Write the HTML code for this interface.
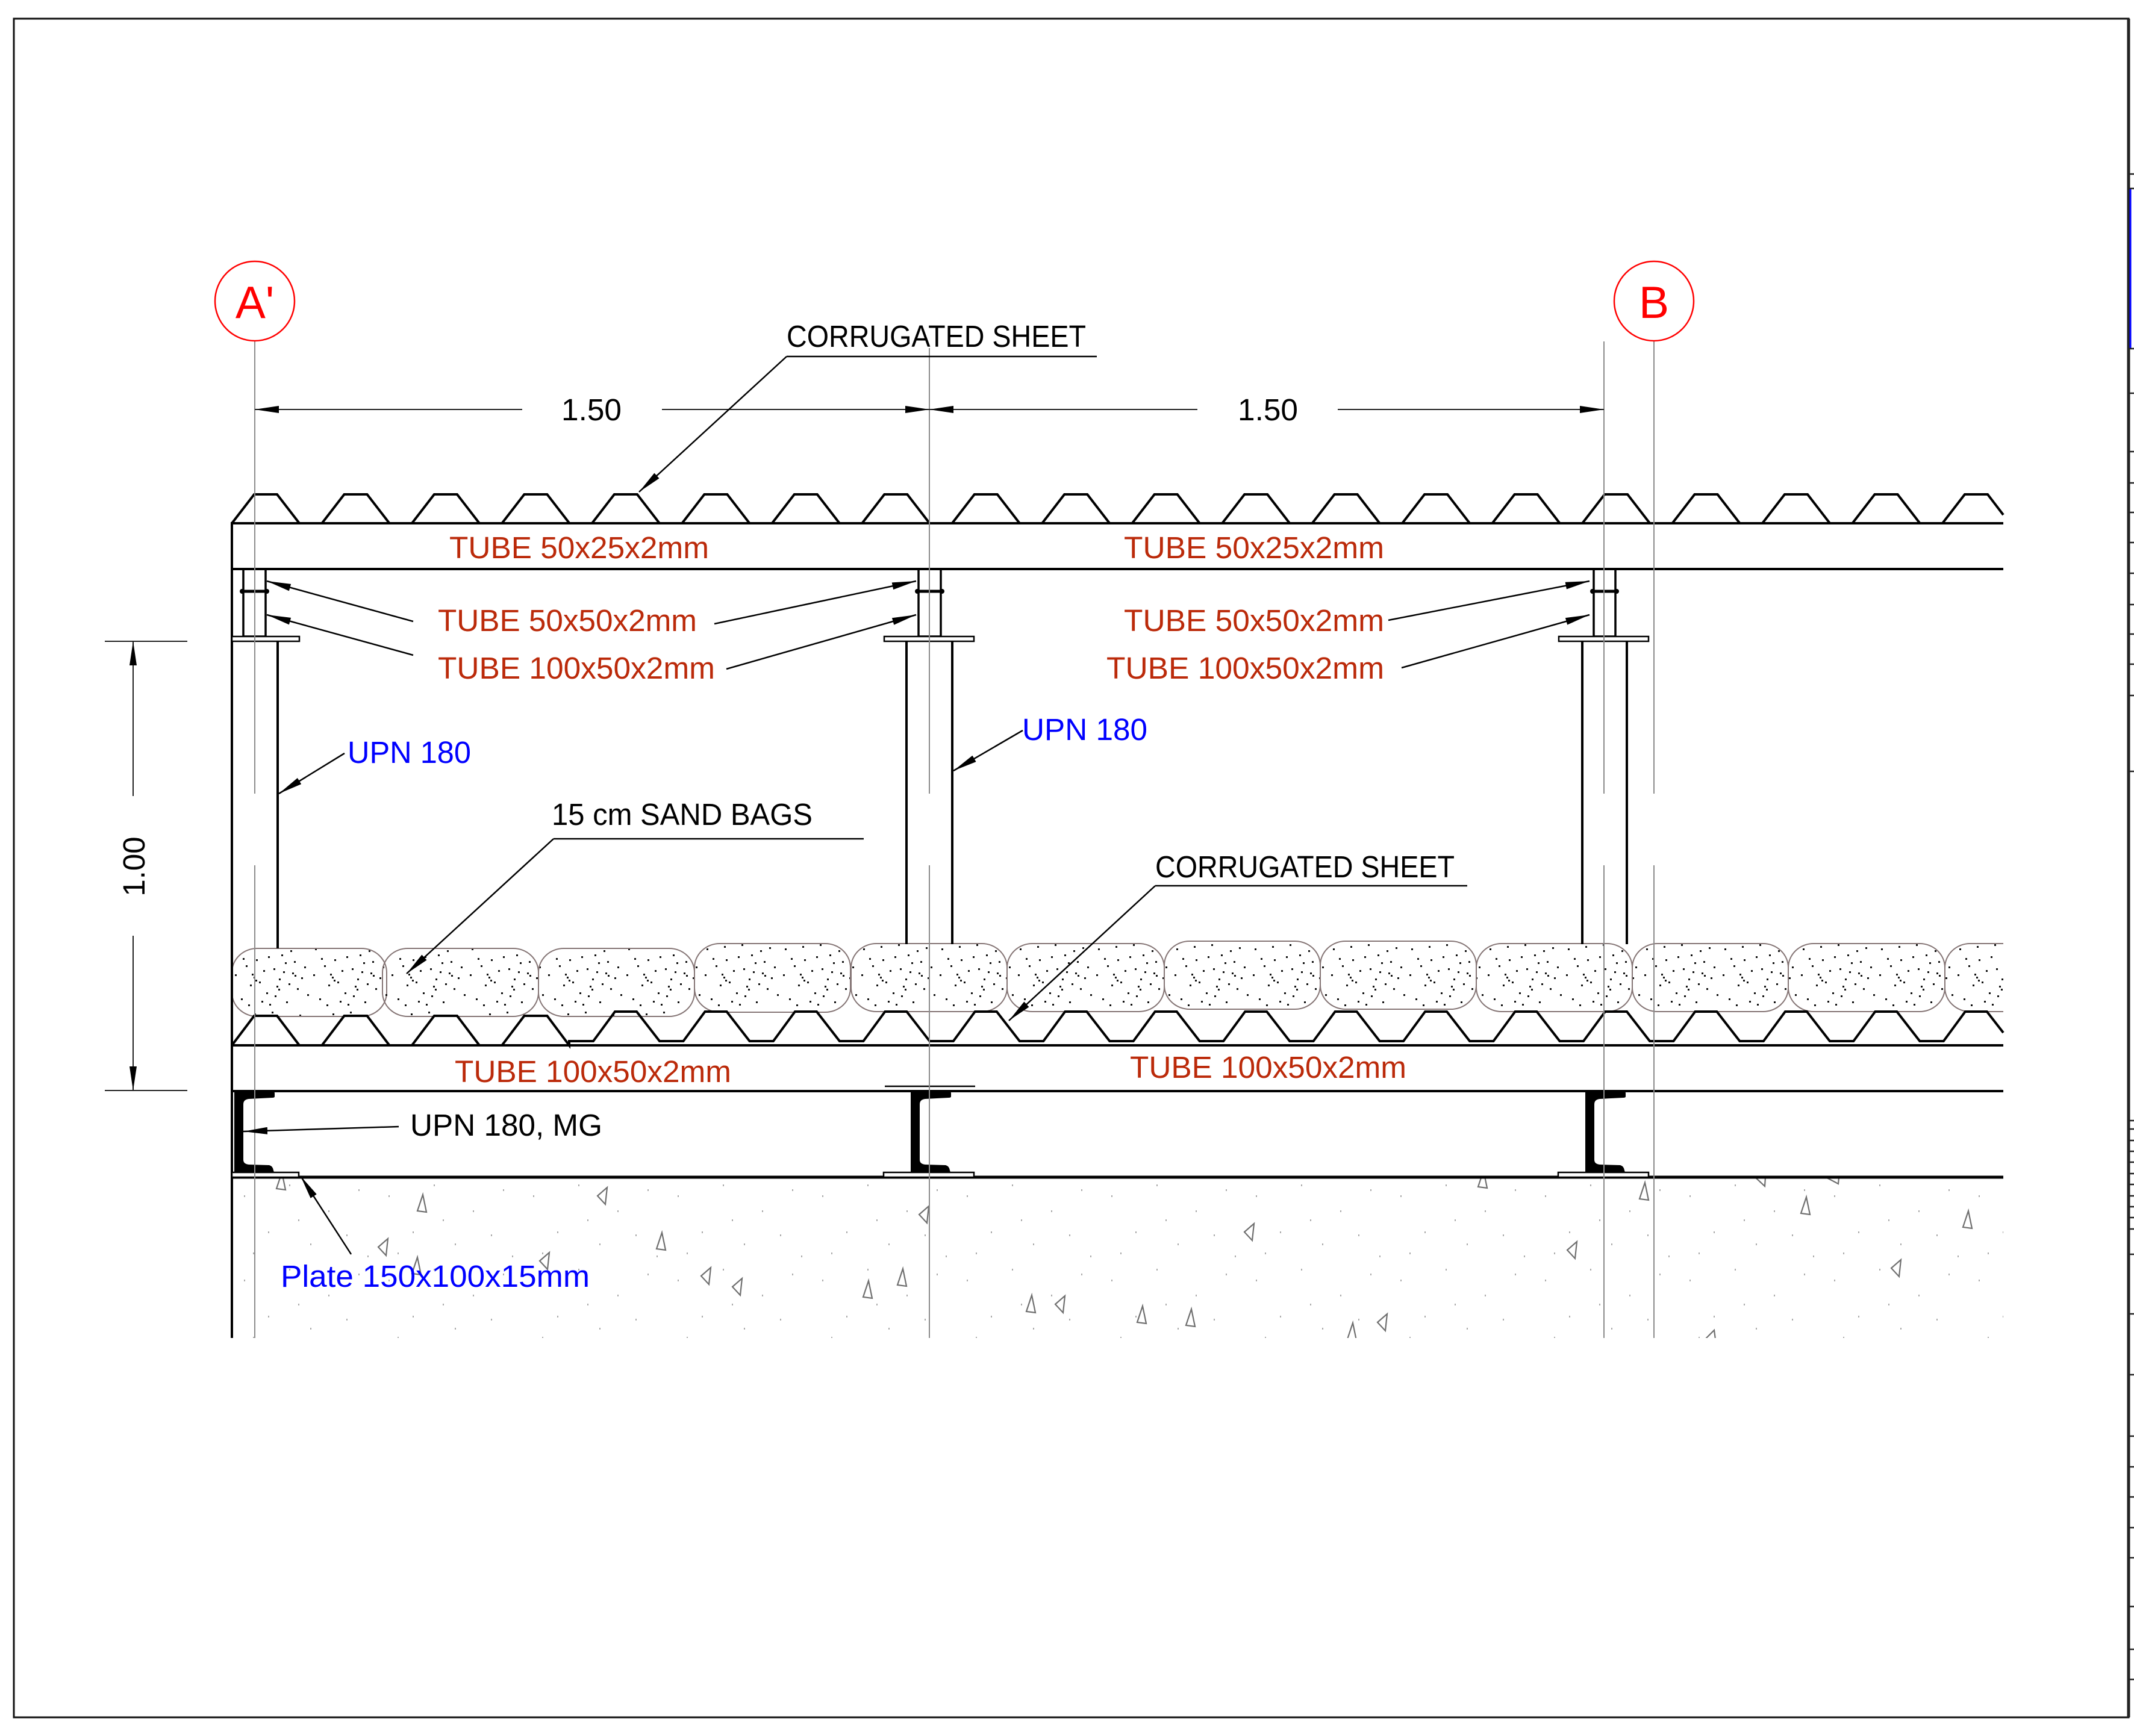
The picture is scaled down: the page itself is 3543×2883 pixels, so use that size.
<!DOCTYPE html>
<html>
<head>
<meta charset="utf-8">
<style>
html,body{margin:0;padding:0;background:#fff;}
svg{display:block;}
text{font-family:"Liberation Sans",sans-serif;}
</style>
</head>
<body>
<svg width="3543" height="2883" viewBox="0 0 3543 2883" xmlns="http://www.w3.org/2000/svg">
<defs>
  <marker id="ar" markerUnits="userSpaceOnUse" markerWidth="40" markerHeight="12" viewBox="0 0 40 12" refX="40" refY="6" orient="auto">
    <path d="M0,0 L40,6 L0,12 Z" fill="#000"/>
  </marker>
  <pattern id="sand" width="130" height="112" patternUnits="userSpaceOnUse" x="385" y="1563">
    <g fill="#111">
      <rect x="8" y="12" width="3" height="3"/><rect x="23" y="40" width="3" height="3"/>
      <rect x="37" y="8" width="3" height="3"/><rect x="45" y="67" width="3" height="3"/>
      <rect x="60" y="25" width="3" height="3"/><rect x="71" y="90" width="3" height="3"/>
      <rect x="85" y="50" width="3" height="3"/><rect x="97" y="15" width="3" height="3"/>
      <rect x="108" y="78" width="3" height="3"/><rect x="120" y="42" width="3" height="3"/>
      <rect x="15" y="95" width="3" height="3"/><rect x="30" y="72" width="3" height="3"/>
      <rect x="52" y="48" width="3" height="3"/><rect x="66" y="5" width="3" height="3"/>
      <rect x="78" y="62" width="3" height="3"/><rect x="90" y="100" width="3" height="3"/>
      <rect x="103" y="33" width="3" height="3"/><rect x="115" y="60" width="3" height="3"/>
      <rect x="125" y="88" width="3" height="3"/><rect x="5" y="55" width="3" height="3"/>
      <rect x="40" y="30" width="3" height="3"/><rect x="57" y="85" width="3" height="3"/>
      <rect x="82" y="22" width="3" height="3"/><rect x="94" y="70" width="3" height="3"/>
      <rect x="112" y="10" width="3" height="3"/><rect x="27" y="105" width="3" height="3"/>
      <rect x="69" y="45" width="3" height="3"/><rect x="88" y="35" width="3" height="3"/>
      <rect x="49" y="99" width="3" height="3"/><rect x="18" y="28" width="3" height="3"/>
      <rect x="33" y="54" width="3" height="3"/><rect x="36" y="59" width="3" height="3"/>
      <rect x="39" y="64" width="3" height="3"/><rect x="74" y="74" width="3" height="3"/>
      <rect x="77" y="79" width="3" height="3"/><rect x="100" y="52" width="3" height="3"/>
      <rect x="104" y="56" width="3" height="3"/><rect x="62" y="104" width="3" height="3"/>
    </g>
  </pattern>
  <pattern id="conc" width="240" height="140" patternUnits="userSpaceOnUse" x="385" y="1955">
    <g fill="#aaa">
      <rect x="20" y="30" width="2" height="3"/><rect x="95" y="12" width="2" height="3"/>
      <rect x="160" y="55" width="2" height="3"/><rect x="210" y="20" width="2" height="3"/>
      <rect x="60" y="90" width="2" height="3"/><rect x="130" y="110" width="2" height="3"/>
      <rect x="190" y="95" width="2" height="3"/><rect x="35" y="125" width="2" height="3"/>
      <rect x="110" y="70" width="2" height="3"/><rect x="225" y="130" width="2" height="3"/>
    </g>
  </pattern>
  <clipPath id="clipR"><rect x="385" y="0" width="2941" height="2883"/></clipPath>
  <clipPath id="clipC"><rect x="386" y="1957" width="2940" height="265"/></clipPath>
</defs>

<!-- Frame -->
<rect x="23" y="31" width="3511" height="2821" fill="none" stroke="#111" stroke-width="3"/>
<line x1="3534" y1="31" x2="3534" y2="2852" stroke="#222" stroke-width="5"/>
<line x1="3537" y1="312" x2="3537" y2="579" stroke="#0000ff" stroke-width="3"/>
<g stroke="#222" stroke-width="2.5">
  <line x1="3534" y1="289" x2="3543" y2="289"/><line x1="3534" y1="313" x2="3543" y2="313"/>
  <line x1="3534" y1="579" x2="3543" y2="579"/><line x1="3534" y1="653" x2="3543" y2="653"/>
  <line x1="3534" y1="750" x2="3543" y2="750"/><line x1="3534" y1="802" x2="3543" y2="802"/>
  <line x1="3534" y1="851" x2="3543" y2="851"/><line x1="3534" y1="901" x2="3543" y2="901"/>
  <line x1="3534" y1="952" x2="3543" y2="952"/><line x1="3534" y1="1004" x2="3543" y2="1004"/>
  <line x1="3534" y1="1053" x2="3543" y2="1053"/><line x1="3534" y1="1103" x2="3543" y2="1103"/>
  <line x1="3534" y1="1155" x2="3543" y2="1155"/><line x1="3534" y1="1281" x2="3543" y2="1281"/>
  <line x1="3534" y1="1861" x2="3543" y2="1861"/><line x1="3534" y1="1875" x2="3543" y2="1875"/>
  <line x1="3534" y1="1894" x2="3543" y2="1894"/><line x1="3534" y1="1912" x2="3543" y2="1912"/>
  <line x1="3534" y1="1930" x2="3543" y2="1930"/><line x1="3534" y1="1949" x2="3543" y2="1949"/>
  <line x1="3534" y1="1967" x2="3543" y2="1967"/><line x1="3534" y1="1986" x2="3543" y2="1986"/>
  <line x1="3534" y1="2004" x2="3543" y2="2004"/><line x1="3534" y1="2022" x2="3543" y2="2022"/>
  <line x1="3534" y1="2041" x2="3543" y2="2041"/><line x1="3534" y1="2083" x2="3543" y2="2083"/>
  <line x1="3534" y1="2182" x2="3543" y2="2182"/><line x1="3534" y1="2283" x2="3543" y2="2283"/>
  <line x1="3534" y1="2385" x2="3543" y2="2385"/><line x1="3534" y1="2436" x2="3543" y2="2436"/>
  <line x1="3534" y1="2486" x2="3543" y2="2486"/><line x1="3534" y1="2537" x2="3543" y2="2537"/>
  <line x1="3534" y1="2587" x2="3543" y2="2587"/><line x1="3534" y1="2668" x2="3543" y2="2668"/>
  <line x1="3534" y1="2739" x2="3543" y2="2739"/><line x1="3534" y1="2789" x2="3543" y2="2789"/>
</g>

<!-- Concrete -->
<g clip-path="url(#clipC)">
  <rect x="386" y="1957" width="2940" height="265" fill="url(#conc)"/>
  <g fill="none" stroke="#6f6f6f" stroke-width="2.2">
    <path d="M468,1947 L459,1974 L474,1976 Z"/>
    <path d="M702,1984 L693,2011 L708,2013 Z"/>
    <path d="M992,1986 L1008,1972 L1005,2000 Z"/>
    <path d="M628,2071 L644,2057 L641,2085 Z"/>
    <path d="M1099,2047 L1090,2074 L1105,2076 Z"/>
    <path d="M896,2094 L912,2080 L909,2108 Z"/>
    <path d="M693,2088 L684,2115 L699,2117 Z"/>
    <path d="M1164,2119 L1180,2105 L1177,2133 Z"/>
    <path d="M1216,2137 L1232,2123 L1229,2151 Z"/>
    <path d="M1499,2107 L1490,2134 L1505,2136 Z"/>
    <path d="M1442,2127 L1433,2154 L1448,2156 Z"/>
    <path d="M1526,2017 L1542,2003 L1539,2031 Z"/>
    <path d="M1713,2151 L1704,2178 L1719,2180 Z"/>
    <path d="M1752,2166 L1768,2152 L1765,2180 Z"/>
    <path d="M1897,2169 L1888,2196 L1903,2198 Z"/>
    <path d="M1978,2174 L1969,2201 L1984,2203 Z"/>
    <path d="M2066,2046 L2082,2032 L2079,2060 Z"/>
    <path d="M2287,2196 L2303,2182 L2300,2210 Z"/>
    <path d="M2246,2197 L2237,2224 L2252,2226 Z"/>
    <path d="M2463,1944 L2454,1971 L2469,1973 Z"/>
    <path d="M2731,1964 L2722,1991 L2737,1993 Z"/>
    <path d="M2602,2076 L2618,2062 L2615,2090 Z"/>
    <path d="M2914,1955 L2930,1970 L2932,1940 Z"/>
    <path d="M3035,1957 L3052,1966 L3054,1945 Z"/>
    <path d="M2999,1988 L2990,2015 L3005,2017 Z"/>
    <path d="M3268,2011 L3259,2038 L3274,2040 Z"/>
    <path d="M3140,2106 L3156,2092 L3153,2120 Z"/>
    <path d="M2833,2222 L2846,2209 L2849,2232 Z"/>
  </g>
</g>

<!-- Sand bags -->
<g clip-path="url(#clipR)" fill="url(#sand)" stroke="#857575" stroke-width="2">
  <rect x="385" y="1575" width="257" height="113" rx="42" ry="40"/>
  <rect x="635" y="1575" width="259" height="113" rx="42" ry="40"/>
  <rect x="894" y="1575" width="259" height="113" rx="42" ry="40"/>
  <rect x="1153" y="1567" width="259" height="114" rx="42" ry="40"/>
  <rect x="1413" y="1567" width="259" height="113" rx="42" ry="40"/>
  <rect x="1672" y="1567" width="261" height="113" rx="42" ry="40"/>
  <rect x="1933" y="1563" width="259" height="113" rx="42" ry="40"/>
  <rect x="2192" y="1563" width="259" height="113" rx="42" ry="40"/>
  <rect x="2451" y="1567" width="259" height="113" rx="42" ry="40"/>
  <rect x="2710" y="1567" width="259" height="113" rx="42" ry="40"/>
  <rect x="2969" y="1567" width="260" height="113" rx="42" ry="40"/>
  <rect x="3229" y="1567" width="259" height="113" rx="42" ry="40"/>
</g>

<!-- Top corrugated sheet -->
<g fill="none" stroke="#000" stroke-width="4" stroke-linejoin="miter">
  <polyline points="385,869 422,821 460,821 497,869 534.5,869 571.5,821 609.5,821 646.5,869 683.9,869 720.9,821 758.9,821 795.9,869 833.4,869 870.4,821 908.4,821 945.4,869 982.9,869 1019.9,821 1057.9,821 1094.9,869 1132.4,869 1169.4,821 1207.4,821 1244.4,869 1281.8,869 1318.8,821 1356.8,821 1393.8,869 1431.3,869 1468.3,821 1506.3,821 1543.3,869 1580.8,869 1617.8,821 1655.8,821 1692.8,869 1730.2,869 1767.2,821 1805.2,821 1842.2,869 1879.7,869 1916.7,821 1954.7,821 1991.7,869 2029.2,869 2066.2,821 2104.2,821 2141.2,869 2178.6,869 2215.6,821 2253.6,821 2290.6,869 2328.1,869 2365.1,821 2403.1,821 2440.1,869 2477.6,869 2514.6,821 2552.6,821 2589.6,869 2627.1,869 2664.1,821 2702.1,821 2739.1,869 2776.5,869 2813.5,821 2851.5,821 2888.5,869 2926,869 2963,821 3001,821 3038,869 3075.5,869 3112.5,821 3150.5,821 3187.5,869 3225,869 3262,821 3300,821 3326,855"/>
  <line x1="385" y1="869" x2="3326" y2="869"/>
  <line x1="385" y1="945" x2="3326" y2="945"/>

  <!-- Bottom corrugated sheet -->
  <polyline points="385,1736 422,1687 460,1687 497,1736 534.5,1736 571.5,1687 609.5,1687 646.5,1736 683.9,1736 720.9,1687 758.9,1687 795.9,1736 833.4,1736 870.4,1687 908.4,1687 945,1736 945,1729 985,1729 1021,1680 1057,1680 1095,1729 1134.5,1729 1170.5,1680 1206.5,1680 1244.5,1729 1283.9,1729 1319.9,1680 1355.9,1680 1393.9,1729 1433.4,1729 1469.4,1680 1505.4,1680 1543.4,1729 1582.8,1729 1618.8,1680 1654.8,1680 1692.8,1729 1732.3,1729 1768.3,1680 1804.3,1680 1842.3,1729 1881.7,1729 1917.7,1680 1953.7,1680 1991.7,1729 2031.2,1729 2067.2,1680 2103.2,1680 2141.2,1729 2180.6,1729 2216.6,1680 2252.6,1680 2290.6,1729 2330.1,1729 2366.1,1680 2402.1,1680 2440.1,1729 2479.5,1729 2515.5,1680 2551.5,1680 2589.5,1729 2629,1729 2665,1680 2701,1680 2739,1729 2778.4,1729 2814.4,1680 2850.4,1680 2888.4,1729 2927.9,1729 2963.9,1680 2999.9,1680 3037.9,1729 3077.3,1729 3113.3,1680 3149.3,1680 3187.3,1729 3226.8,1729 3262.8,1680 3298.8,1680 3326,1715"/>
  <line x1="385" y1="1736" x2="3326" y2="1736"/>
  <line x1="385" y1="1812" x2="3326" y2="1812"/>
  <line x1="385" y1="1955" x2="3326" y2="1955" stroke-width="5"/>
  <line x1="385" y1="867" x2="385" y2="2222"/>

  <!-- posts (UPN 180) -->
  <line x1="461" y1="1065" x2="461" y2="1575"/>
  <line x1="1505" y1="1065" x2="1505" y2="1568"/>
  <line x1="1581" y1="1065" x2="1581" y2="1568"/>
  <line x1="2627" y1="1065" x2="2627" y2="1568"/>
  <line x1="2701" y1="1065" x2="2701" y2="1568"/>

  <!-- small tubes 50x50 -->
  <rect x="404" y="945" width="37" height="112" stroke-width="3.5"/>
  <rect x="1525" y="945" width="37" height="112" stroke-width="3.5"/>
  <rect x="2646" y="945" width="36" height="112" stroke-width="3.5"/>
  <line x1="402" y1="982" x2="443" y2="982" stroke-width="5"/>
  <line x1="1523" y1="982" x2="1564" y2="982" stroke-width="5"/>
  <line x1="2644" y1="982" x2="2684" y2="982" stroke-width="5"/>
</g>
<g fill="#000">
  <circle cx="402" cy="982" r="4"/><circle cx="443" cy="982" r="4"/>
  <circle cx="1523" cy="982" r="4"/><circle cx="1564" cy="982" r="4"/>
  <circle cx="2644" cy="982" r="4"/><circle cx="2684" cy="982" r="4"/>
</g>

<!-- plates -->
<g fill="#fff" stroke="#000" stroke-width="2.5">
  <rect x="385" y="1057" width="112" height="8"/>
  <rect x="1468" y="1057" width="149" height="8"/>
  <rect x="2588" y="1057" width="149" height="8"/>
  <rect x="385" y="1947" width="111" height="8"/>
  <rect x="1467" y="1947" width="150" height="8"/>
  <rect x="2587" y="1947" width="150" height="8"/>
</g>
<line x1="1469" y1="1804" x2="1619" y2="1804" stroke="#000" stroke-width="2.5"/>

<!-- UPN channels -->
<g fill="#000">
  <path d="M389,1812 L452,1812 Q456,1812 456,1816 L456,1821 Q456,1823 452,1823 L413,1825 Q404,1826 404,1834 L404,1926 Q404,1933 413,1934 L447,1935 Q451,1936 453,1940 L455,1947 L389,1947 Z"/>
  <path d="M1512,1812 L1575,1812 Q1579,1812 1579,1816 L1579,1821 Q1579,1823 1575,1823 L1536,1825 Q1527,1826 1527,1834 L1527,1926 Q1527,1933 1536,1934 L1570,1935 Q1574,1936 1576,1940 L1578,1947 L1512,1947 Z"/>
  <path d="M2632,1812 L2695,1812 Q2699,1812 2699,1816 L2699,1821 Q2699,1823 2695,1823 L2656,1825 Q2647,1826 2647,1834 L2647,1926 Q2647,1933 2656,1934 L2690,1935 Q2694,1936 2696,1940 L2698,1947 L2632,1947 Z"/>
</g>

<!-- Axis lines -->
<g stroke="#8c8c8c" stroke-width="2">
  <line x1="423" y1="566" x2="423" y2="1318"/><line x1="423" y1="1437" x2="423" y2="2222"/>
  <line x1="1543" y1="578" x2="1543" y2="1318"/><line x1="1543" y1="1437" x2="1543" y2="2222"/>
  <line x1="2663" y1="567" x2="2663" y2="1318"/><line x1="2663" y1="1437" x2="2663" y2="2222"/>
  <line x1="2746" y1="566" x2="2746" y2="1318"/><line x1="2746" y1="1437" x2="2746" y2="2222"/>
</g>

<!-- Axis bubbles -->
<circle cx="423" cy="500" r="66" fill="none" stroke="#ff0000" stroke-width="2.5"/>
<text x="423" y="528" font-size="75" fill="#ff0000" text-anchor="middle">A'</text>
<circle cx="2746" cy="500" r="66" fill="none" stroke="#ff0000" stroke-width="2.5"/>
<text x="2746" y="528" font-size="75" fill="#ff0000" text-anchor="middle">B</text>

<!-- Dimensions -->
<g stroke="#222" stroke-width="2" fill="none">
  <line x1="867" y1="680" x2="423" y2="680" marker-end="url(#ar)"/>
  <line x1="1099" y1="680" x2="1543" y2="680" marker-end="url(#ar)"/>
  <line x1="1988" y1="680" x2="1543" y2="680" marker-end="url(#ar)"/>
  <line x1="2221" y1="680" x2="2663" y2="680" marker-end="url(#ar)"/>
  <line x1="221" y1="1322" x2="221" y2="1065" marker-end="url(#ar)"/>
  <line x1="221" y1="1554" x2="221" y2="1811" marker-end="url(#ar)"/>
  <line x1="174" y1="1065" x2="311" y2="1065"/>
  <line x1="174" y1="1811" x2="311" y2="1811"/>
</g>
<g font-size="51" fill="#000">
  <text x="932" y="698" textLength="100" lengthAdjust="spacingAndGlyphs">1.50</text>
  <text x="2055" y="698" textLength="100" lengthAdjust="spacingAndGlyphs">1.50</text>
  <text transform="translate(240,1439) rotate(-90)" text-anchor="middle">1.00</text>
</g>

<!-- Leaders -->
<g stroke="#000" stroke-width="2.5" fill="none">
  <line x1="1306" y1="592" x2="1821" y2="592"/>
  <line x1="1306" y1="592" x2="1061" y2="817" marker-end="url(#ar)"/>
  <line x1="686" y1="1032" x2="443" y2="965" marker-end="url(#ar)"/>
  <line x1="686" y1="1088" x2="443" y2="1021" marker-end="url(#ar)"/>
  <line x1="1186" y1="1036" x2="1521" y2="965" marker-end="url(#ar)"/>
  <line x1="1206" y1="1111" x2="1521" y2="1021" marker-end="url(#ar)"/>
  <line x1="2305" y1="1030" x2="2639" y2="965" marker-end="url(#ar)"/>
  <line x1="2327" y1="1109" x2="2639" y2="1021" marker-end="url(#ar)"/>
  <line x1="572" y1="1251" x2="463" y2="1318" marker-end="url(#ar)"/>
  <line x1="1698" y1="1213" x2="1583" y2="1280" marker-end="url(#ar)"/>
  <line x1="919" y1="1393" x2="1434" y2="1393"/>
  <line x1="919" y1="1393" x2="675" y2="1617" marker-end="url(#ar)"/>
  <line x1="1918" y1="1471" x2="2436" y2="1471"/>
  <line x1="1918" y1="1471" x2="1675" y2="1695" marker-end="url(#ar)"/>
  <line x1="662" y1="1871" x2="404" y2="1879" marker-end="url(#ar)"/>
  <line x1="583" y1="2083" x2="499" y2="1953" marker-end="url(#ar)"/>
</g>

<!-- Labels -->
<g font-size="51">
  <text x="1306" y="576" fill="#000" textLength="497" lengthAdjust="spacingAndGlyphs">CORRUGATED SHEET</text>
  <text x="746" y="927" fill="#bb2a0a" textLength="431" lengthAdjust="spacingAndGlyphs">TUBE 50x25x2mm</text>
  <text x="1866" y="927" fill="#bb2a0a" textLength="432" lengthAdjust="spacingAndGlyphs">TUBE 50x25x2mm</text>
  <text x="727" y="1048" fill="#bb2a0a" textLength="430" lengthAdjust="spacingAndGlyphs">TUBE 50x50x2mm</text>
  <text x="1866" y="1048" fill="#bb2a0a" textLength="432" lengthAdjust="spacingAndGlyphs">TUBE 50x50x2mm</text>
  <text x="727" y="1127" fill="#bb2a0a" textLength="460" lengthAdjust="spacingAndGlyphs">TUBE 100x50x2mm</text>
  <text x="1837" y="1127" fill="#bb2a0a" textLength="461" lengthAdjust="spacingAndGlyphs">TUBE 100x50x2mm</text>
  <text x="577" y="1267" fill="#0000ff" textLength="205" lengthAdjust="spacingAndGlyphs">UPN 180</text>
  <text x="1697" y="1229" fill="#0000ff" textLength="208" lengthAdjust="spacingAndGlyphs">UPN 180</text>
  <text x="916" y="1370" fill="#000" textLength="433" lengthAdjust="spacingAndGlyphs">15 cm SAND BAGS</text>
  <text x="1918" y="1457" fill="#000" textLength="497" lengthAdjust="spacingAndGlyphs">CORRUGATED SHEET</text>
  <text x="755" y="1797" fill="#bb2a0a" textLength="459" lengthAdjust="spacingAndGlyphs">TUBE 100x50x2mm</text>
  <text x="1876" y="1790" fill="#bb2a0a" textLength="459" lengthAdjust="spacingAndGlyphs">TUBE 100x50x2mm</text>
  <text x="681" y="1886" fill="#000" textLength="319" lengthAdjust="spacingAndGlyphs">UPN 180, MG</text>
  <text x="466" y="2137" fill="#0000ff" textLength="513" lengthAdjust="spacingAndGlyphs">Plate 150x100x15mm</text>
</g>
</svg>
</body>
</html>
